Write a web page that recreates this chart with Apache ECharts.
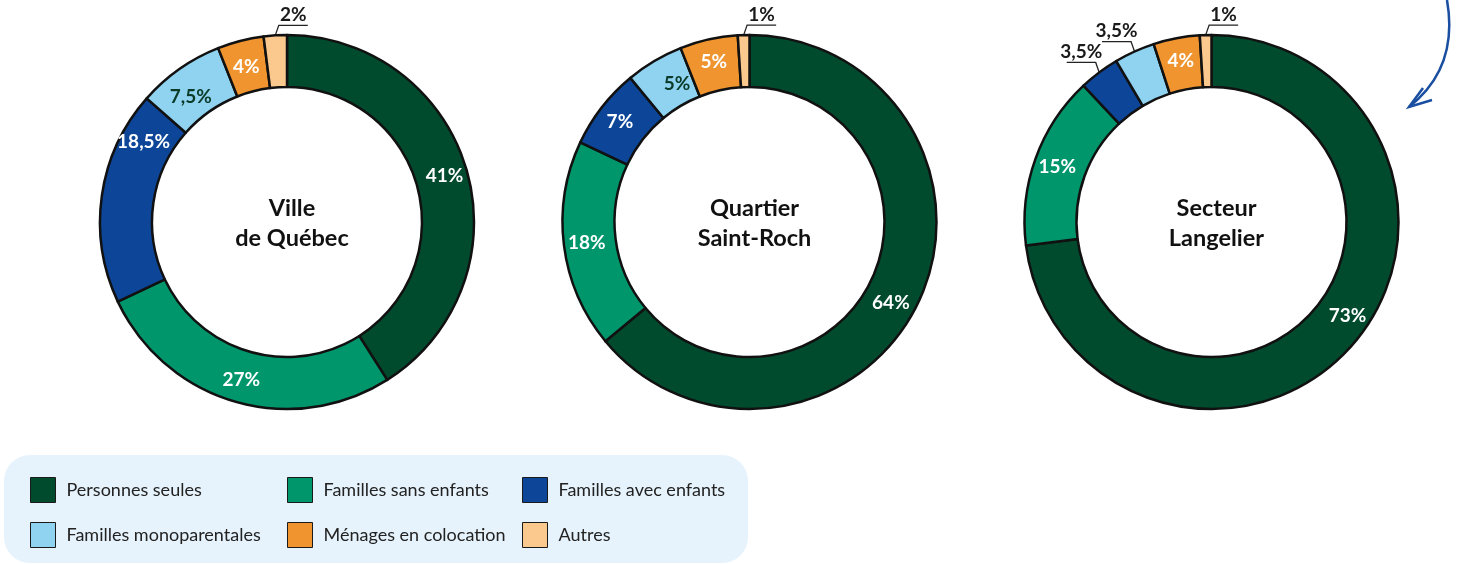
<!DOCTYPE html>
<html><head><meta charset="utf-8">
<script src="https://cdn.jsdelivr.net/npm/echarts@6/dist/echarts.min.js"></script>
<style>html,body{margin:0;padding:0;background:#fff}#c{width:1463px;height:564px}</style>
</head><body><div id="c"></div>
<script>
// ---- data ----
const categories = ['Personnes seules','Familles sans enfants','Familles avec enfants','Familles monoparentales','Ménages en colocation','Autres'];
const chartTitles = ['Ville\nde Québec','Quartier\nSaint-Roch','Secteur\nLangelier'];
const villeQuebec = [41, 27, 18.5, 7.5, 4, 2];
const saintRoch   = [64, 18, 7, 5, 5, 1];
const langelier   = [73, 15, 3.5, 3.5, 4, 1];

// ---- styles ----
const colors = ['#004a2d','#00966c','#0d4698','#8fd3f1','#ef942e','#fbc88e'];
const insideTextColors = ['#fff','#fff','#fff','#0b3b28','#fff','#fff'];
const centers = [[287,222],[749.5,222],[1211.5,222]];
const FONT = 'Lato, "Noto Sans", sans-serif';
const LABEL_SIZE = 19;
// small manual nudges of inside labels (series, category) -> [dx, dy]
const labelNudge = {'0-2':[19,-57], '0-3':[-2,9], '0-4':[0,4], '1-0':[-7,11], '1-3':[11,3], '2-0':[13,-15]};

const allSeriesData = [villeQuebec, saintRoch, langelier];
const fmt = v => String(v).replace('.', ',') + '%';

const series = allSeriesData.map((vals, si) => ({
  type: 'pie',
  center: centers[si],
  radius: [135, 187],
  startAngle: 90,
  clockwise: true,
  avoidLabelOverlap: false,
  silent: true,
  itemStyle: {borderColor: '#111', borderWidth: 2.5},
  label: {fontFamily: FONT, fontWeight: 'bold', fontSize: LABEL_SIZE},
  labelLine: {show: false},
  data: vals.map((v, ci) => {
    const outside = v < 4;
    return {
      name: categories[ci],
      value: v,
      itemStyle: {color: colors[ci]},
      label: outside
        ? {show: true, position: 'outside', color: '#1a1a1a', formatter: fmt(v), fontFamily: FONT, fontWeight: 'bold', fontSize: LABEL_SIZE}
        : {show: true, position: 'inside', color: insideTextColors[ci], formatter: fmt(v), fontFamily: FONT, fontWeight: 'bold', fontSize: LABEL_SIZE},
      labelLine: outside ? {show: true, length: 10, length2: 25, lineStyle: {color: '#222', width: 1.3}} : {show: false}
    };
  }),
  labelLayout: function (p) {
    const key = p.seriesIndex + '-' + p.dataIndex;
    const v = allSeriesData[p.seriesIndex][p.dataIndex];
    if (v >= 4) {
      const n = labelNudge[key];
      return n ? {dx: n[0], dy: n[1]} : {};
    }
    if (!p.labelLinePoints) return {};
    const p0 = p.labelLinePoints[0];
    const cx = centers[p.seriesIndex][0];
    const right = p0[0] > cx - 20;
    const s = right ? 1 : -1;
    const p1 = [p0[0] + s * 3.5, p0[1] - 10];
    const p2 = [p1[0] + s * 29, p1[1]];
    return {
      x: (p1[0] + p2[0]) / 2,
      y: p1[1] - 1,
      align: 'center',
      verticalAlign: 'bottom',
      labelLinePoints: [p0, p1, p2]
    };
  }
}));

const titles = chartTitles.map((t, i) => ({
  text: t,
  left: centers[i][0],
  top: centers[i][1] - 4,
  textAlign: 'center',
  textVerticalAlign: 'middle',
  textStyle: {fontFamily: FONT, fontWeight: 'bold', fontSize: 23.5, color: '#111', lineHeight: 30}
}));

const legendCols = [[categories[0], categories[3]], [categories[1], categories[4]], [categories[2], categories[5]]];
const legendLeft = [30, 287, 522];
const legends = legendCols.map((names, i) => ({
  data: names,
  orient: 'vertical',
  left: legendLeft[i],
  top: 477,
  padding: 0,
  itemWidth: 25,
  itemHeight: 25,
  itemGap: 19,
  icon: 'rect',
  selectedMode: false,
  itemStyle: {borderColor: '#1a1a1a', borderWidth: 1},
  textStyle: {fontFamily: FONT, fontSize: 18, color: '#222', padding: [0, 0, 0, 6]}
}));

const chart = echarts.init(document.getElementById('c'), null, {renderer: 'canvas'});
chart.setOption({
  backgroundColor: '#fff',
  animation: false,
  title: titles,
  legend: legends,
  graphic: [
    {type: 'rect', z: -10, shape: {x: 4, y: 455, width: 744, height: 108, r: 26}, style: {fill: '#e6f3fc'}},
    {type: 'bezierCurve', shape: {x1: 1447, y1: 0, cpx1: 1454, cpy1: 40, cpx2: 1446, cpy2: 78, x2: 1409, y2: 107}, style: {stroke: '#1a4ea0', lineWidth: 2.5, fill: null}},
    {type: 'polyline', shape: {points: [[1423, 88], [1409, 107], [1432, 100]]}, style: {stroke: '#1a4ea0', lineWidth: 2.5, fill: null}}
  ],
  series: series
});
</script>
</body></html>
